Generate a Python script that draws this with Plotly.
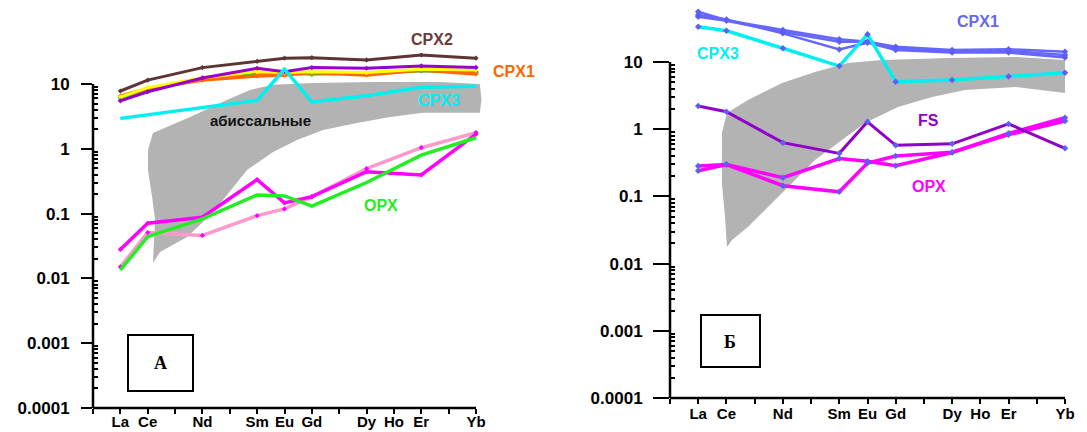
import plotly.graph_objects as go

W, H = 1087, 432

# ---------------- data ----------------
REE = ["La", "Ce", "Pr", "Nd", "Pm", "Sm", "Eu", "Gd", "Tb", "Dy", "Ho", "Er", "Tm", "Yb"]
TICK_LABELS = ["", "La", "Ce", "", "Nd", "", "Sm", "Eu", "Gd", "", "Dy", "Ho", "Er", "", "Yb"]
ELEMENTS = ["La", "Ce", "Nd", "Sm", "Eu", "Gd", "Dy", "Er", "Yb"]

# Panel A (left)
a_cpx2 = [7.8, 11.5, 17.9, 22.4, 25.0, 25.5, 23.5, 28.0, 25.0]
a_black = [6.2, 8.3, 12.0, 14.5, 15.0, 14.8, 14.5, 16.0, 15.3]
a_green_cpx = [6.0, 8.0, 11.8, 14.0, 14.5, 14.0, 14.5, 16.0, 15.0]
a_orange = [6.5, 8.5, 11.5, 13.3, 13.8, 15.0, 13.8, 16.4, 14.3]
a_yellow = [6.3, 8.8, 12.5, 15.5, 15.0, 15.5, 15.0, 16.9, 16.4]
a_purple = [5.5, 7.6, 12.4, 17.5, 15.5, 17.9, 17.5, 19.0, 18.0]
a_cpx3 = [2.95, None, None, 5.6, 16.9, 5.3, 6.6, 8.9, 9.2]
a_opx_pink = [0.0151, 0.051, 0.046, 0.093, 0.118, 0.181, 0.494, 1.04, 1.78]
a_opx_magenta = [0.028, 0.071, 0.088, 0.335, 0.146, 0.183, 0.443, 0.394, 1.68]
a_opx_green = [0.0135, 0.044, 0.083, 0.194, 0.187, 0.13, 0.302, 0.80, 1.48]

# abyssal peridotite field (panel A), outline in REE position / normalized value
a_field_x = [2.19, 2.70, 3.55, 4.75, 5.74, 6.58, 8.04, 10.23, 12.68, 14.14, 14.2, 14.14,
             12.06, 10.86, 9.65, 8.41, 7.46, 6.58, 5.63, 4.75, 4.02, 3.44, 2.92, 2.45, 2.19,
             2.27, 2.16, 2.01, 2.01, 2.19]
a_field_y = [1.75, 2.17, 3.1, 5.3, 8.1, 9.7, 10.4, 10.7, 10.7, 10.0, 5.7, 3.6,
             3.6, 3.1, 2.5, 1.95, 1.37, 0.89, 0.47, 0.162, 0.074, 0.0436, 0.0327, 0.0255, 0.0173,
             0.0796, 0.18, 0.47, 0.96, 1.75]

# Panel Б (right)
b_cpx1_a = [56, 42, 30, 21.8, 20.0, 16.9, 15.1, 15.5, 14.2]
b_cpx1_b = [50, 43, 26.7, 15.4, 19.4, 15.1, 13.8, 13.8, 11.7]
b_cpx1_c = [47, 41, 28, 20.0, 20.0, 16.0, 14.2, 14.6, 12.7]
b_cpx3 = [33.5, 29.2, 16.0, 8.7, 25.8, 5.1, 5.4, 6.1, 6.9]
b_fs = [2.21, 1.82, 0.63, 0.437, 1.29, 0.575, 0.605, 1.2, 0.52]
b_opx_1 = [0.283, 0.298, 0.19, 0.365, 0.333, 0.286, 0.45, 0.868, 1.48]
b_opx_2 = [0.241, 0.298, 0.144, 0.117, 0.314, 0.40, 0.455, 0.83, 1.32]

b_field_x = [2.02, 2.76, 3.97, 5.14, 6.31, 7.52, 9.85, 12.23, 14.0, 14.0,
             12.23, 10.46, 9.29, 8.08, 6.91, 6.10, 5.14, 4.54, 3.97, 3.37, 2.76, 2.20, 2.02,
             1.95, 1.84, 1.84, 2.02]
b_field_y = [1.74, 2.72, 4.87, 7.1, 9.7, 10.7, 11.5, 11.9, 10.7, 3.46,
             4.25, 3.83, 3.01, 2.14, 1.24, 0.69, 0.348, 0.195, 0.112, 0.0628, 0.035, 0.0224, 0.0177,
             0.0493, 0.158, 0.88, 1.74]

Y_TICKS = [1e-4, 1e-3, 1e-2, 1e-1, 1, 10]
Y_TICKTEXT = ["0.0001", "0.001", "0.01", "0.1", "1", "10"]
Y_MINOR = [m * 10 ** e for e in range(-4, 1) for m in range(2, 10)]

# ---------------- layout helpers ----------------
xpos = [REE.index(e) + 1 for e in ELEMENTS]


def px(x):
    return x / W


def py(y):
    return (H - y) / H


# pixel anchors: (x of origin, x of Yb), (y of 1e-4, y of 10)
A = dict(x0=93, x14=476, y_low=408, y_ten=84, ytop_log=1.6)
B = dict(x0=670, x14=1065, y_low=398, y_ten=62, ytop_log=1.85)


def domains(p):
    ux = (p["x14"] - p["x0"]) / 14.0
    xr = 14.5
    dx = [px(p["x0"]), px(p["x0"] + xr * ux)]
    uy = (p["y_low"] - p["y_ten"]) / 5.0
    ytop_px = p["y_ten"] - (p["ytop_log"] - 1) * uy
    dy = [py(p["y_low"]), py(ytop_px)]
    return dx, dy, [0, xr], [-4, p["ytop_log"]]


adx, ady, axr, ayr = domains(A)
bdx, bdy, bxr, byr = domains(B)

fig = go.Figure()

# fields
fig.add_trace(go.Scatter(x=a_field_x, y=a_field_y, mode="lines", fill="toself",
                         fillcolor="#B3B3B3", line=dict(width=0, color="#B3B3B3"),
                         xaxis="x", yaxis="y", hoverinfo="skip"))
fig.add_trace(go.Scatter(x=b_field_x, y=b_field_y, mode="lines", fill="toself",
                         fillcolor="#B3B3B3", line=dict(width=0, color="#B3B3B3"),
                         xaxis="x2", yaxis="y2", hoverinfo="skip"))


def line_a(vals, color, width=3, mcolor=None, msize=4):
    fig.add_trace(go.Scatter(x=xpos, y=vals, mode="lines+markers", connectgaps=True,
                             line=dict(color=color, width=width),
                             marker=dict(color=mcolor or color, size=msize, symbol="diamond"),
                             xaxis="x", yaxis="y"))


def line_b(vals, color, width=3):
    fig.add_trace(go.Scatter(x=xpos, y=vals, mode="lines+markers",
                             line=dict(color=color, width=width),
                             marker=dict(color="#5E5EF5", size=5, symbol="diamond"),
                             xaxis="x2", yaxis="y2"))


# panel A lines
line_a(a_black, "#000000", 2.5)
line_a(a_green_cpx, "#22DD22", 2.5)
line_a(a_orange, "#FF6600", 3.5)
line_a(a_yellow, "#FFFF00", 3)
line_a(a_purple, "#9900CC", 3)
line_a(a_cpx2, "#5E3434", 3)
line_a(a_cpx3, "#00F0F0", 3.5, msize=1)
line_a(a_opx_pink, "#FF99CC", 3.5, mcolor="#FF00FF")
line_a(a_opx_magenta, "#FF00FF", 3.5)
line_a(a_opx_green, "#22EE22", 3.5, msize=1)

# panel Б lines
line_b(b_cpx1_a, "#6666FF", 2.5)
line_b(b_cpx1_b, "#6666FF", 2.5)
line_b(b_cpx1_c, "#6666FF", 2.5)
line_b(b_cpx3, "#00F0F0", 3.5)
line_b(b_opx_1, "#FF00FF", 3.5)
line_b(b_opx_2, "#FF00FF", 3.5)
line_b(b_fs, "#9000C8", 3)

tickfont_y = dict(family="Liberation Sans", size=17, color="black", weight="bold")
tickfont_x = dict(family="Liberation Sans", size=15, color="black", weight="bold")


def xaxis(domain, rng, anchor, ticklen, standoff):
    return dict(domain=domain, range=rng, anchor=anchor, showgrid=False, zeroline=False,
                showline=False, tickmode="array", tickvals=list(range(0, 15)),
                ticktext=TICK_LABELS, ticks="outside", ticklen=ticklen, tickwidth=2,
                tickcolor="black", tickfont=tickfont_x, ticklabelstandoff=standoff,
                fixedrange=True, automargin=False)


def yaxis(domain, rng, anchor, ticklen, standoff):
    return dict(domain=domain, range=rng, anchor=anchor, type="log", showgrid=False,
                zeroline=False, showline=False, tickmode="array", tickvals=Y_TICKS,
                ticktext=Y_TICKTEXT, ticks="outside", ticklen=ticklen, tickwidth=2,
                tickcolor="black", tickfont=tickfont_y, ticklabelstandoff=standoff,
                minor=dict(tickvals=Y_MINOR, ticks="inside", ticklen=5, tickwidth=1.5,
                           tickcolor="black", showgrid=False),
                fixedrange=True, automargin=False)


shapes = [
    # axis lines panel A
    dict(type="line", xref="paper", yref="paper", x0=px(A["x0"]), x1=px(A["x0"]),
         y0=py(A["y_low"]), y1=py(A["y_ten"]), line=dict(color="black", width=2.5)),
    dict(type="line", xref="paper", yref="paper", x0=px(A["x0"]), x1=px(A["x14"]),
         y0=py(A["y_low"]), y1=py(A["y_low"]), line=dict(color="black", width=2.5)),
    # axis lines panel Б
    dict(type="line", xref="paper", yref="paper", x0=px(B["x0"]), x1=px(B["x0"]),
         y0=py(B["y_low"]), y1=py(B["y_ten"]), line=dict(color="black", width=2.5)),
    dict(type="line", xref="paper", yref="paper", x0=px(B["x0"]), x1=px(B["x14"]),
         y0=py(B["y_low"]), y1=py(B["y_low"]), line=dict(color="black", width=2.5)),
    # letter boxes
    dict(type="rect", xref="paper", yref="paper", x0=px(128), x1=px(193), y0=py(391), y1=py(335),
         line=dict(color="black", width=2)),
    dict(type="rect", xref="paper", yref="paper", x0=px(701), x1=px(760), y0=py(367), y1=py(315),
         line=dict(color="black", width=2)),
]


def lab(text, x, y, color, size=16, family="Liberation Sans"):
    return dict(text=text, x=px(x), y=py(y), xref="paper", yref="paper", showarrow=False,
                xanchor="center", yanchor="middle",
                font=dict(family=family, size=size, color=color, weight="bold"))


annotations = [
    lab("CPX2", 432, 39, "#6B3B3B"),
    lab("CPX1", 514, 72, "#FF6600"),
    lab("CPX3", 439, 100, "#00F0F0"),
    lab("абиссальные", 260, 121, "#111111", 15),
    lab("OPX", 381, 205, "#22EE22"),
    lab("А", 160, 363, "black", 18, "Liberation Serif"),
    lab("CPX1", 978, 21, "#6666EE"),
    lab("CPX3", 718, 53, "#00F0F0"),
    lab("FS", 928, 121, "#9000C8"),
    lab("OPX", 929, 186, "#FF00FF"),
    lab("Б", 730, 342, "black", 18, "Liberation Serif"),
]

fig.update_layout(
    width=W, height=H, margin=dict(l=0, r=0, t=0, b=0, autoexpand=False),
    paper_bgcolor="white", plot_bgcolor="white", showlegend=False,
    xaxis=xaxis(adx, axr, "y", 5, -5),
    yaxis=yaxis(ady, ayr, "x", 11, 8),
    xaxis2=xaxis(bdx, bxr, "y2", 5, -3),
    yaxis2=yaxis(bdy, byr, "x2", 16, 7),
    shapes=shapes, annotations=annotations,
)

fig.write_html("out.html")
